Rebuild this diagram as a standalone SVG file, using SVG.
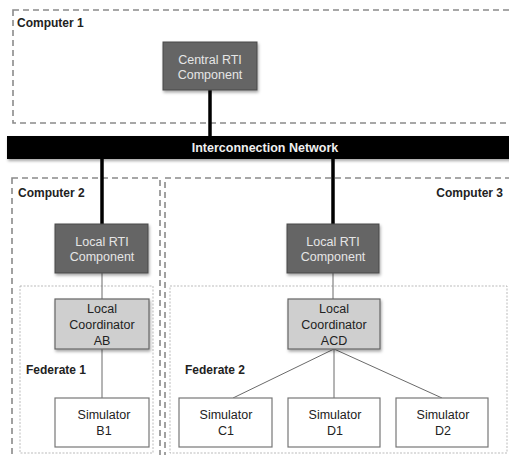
<svg xmlns="http://www.w3.org/2000/svg" width="509" height="455" viewBox="0 0 509 455">
<defs>
<filter id="sh" x="-10%" y="-10%" width="130%" height="140%"><feDropShadow dx="1" dy="2" stdDeviation="1.5" flood-color="#000" flood-opacity="0.35"/></filter>
<style>
.comp{fill:none;stroke:#8a8a8a;stroke-width:1.6;stroke-dasharray:6,4}
.fed{fill:none;stroke:#aaaaaa;stroke-width:0.8;stroke-dasharray:2,1.5}
.rti{fill:#656565;stroke:#4a4a4a;stroke-width:1;filter:url(#sh)}
.coord{fill:#cfcfcf;stroke:#666;stroke-width:1.2;filter:url(#sh)}
.sim{fill:#fff;stroke:#777;stroke-width:1.2}
.t{font-family:"Liberation Sans",Arial,sans-serif;font-size:12.5px;text-anchor:middle}
.tw{fill:#e6e6e6}
.tk{fill:#222}
.lbl{font-family:"Liberation Sans",Arial,sans-serif;font-size:12px;font-weight:bold;fill:#222}
.thick{stroke:#000;stroke-width:3.5}
.thin{stroke:#6a6a6a;stroke-width:1}
</style>
</defs>
<g id="computer1"><rect class="comp" x="13" y="10" width="510" height="113"/><text class="lbl" x="17" y="27">Computer 1</text></g>
<g id="computer2"><rect class="comp" x="12" y="178" width="148" height="290"/><text class="lbl" x="18" y="197">Computer 2</text></g>
<g id="computer3"><rect class="comp" x="165" y="178" width="360" height="290"/><text class="lbl" x="503" y="197" text-anchor="end">Computer 3</text></g>
<g id="federate1"><rect class="fed" x="20" y="286" width="133" height="167"/><text class="lbl" x="26" y="374">Federate 1</text></g>
<g id="federate2"><rect class="fed" x="170" y="286" width="337" height="167"/><text class="lbl" x="185" y="374">Federate 2</text></g>
<g id="connectors">
<line class="thick" x1="210" y1="90" x2="210" y2="137"/>
<line class="thick" x1="102" y1="158" x2="102" y2="224"/>
<line class="thick" x1="333" y1="158" x2="333" y2="224"/>
<line class="thin" x1="102" y1="273" x2="102" y2="299"/>
<line class="thin" x1="333" y1="273" x2="333" y2="299"/>
<line class="thin" x1="102" y1="349" x2="102" y2="398"/>
<line class="thin" x1="334" y1="349" x2="233" y2="398"/>
<line class="thin" x1="334" y1="349" x2="334" y2="398"/>
<line class="thin" x1="334" y1="349" x2="442" y2="398"/>
</g>
<g id="network"><rect x="7" y="136" width="510" height="23" fill="#000" filter="url(#sh)"/><text class="t" x="265" y="152" fill="#f0f0f0" font-weight="bold" font-size="12px">Interconnection Network</text></g>
<g id="central-rti"><rect class="rti" x="163" y="42" width="94" height="48"/><text class="t tw" x="210" y="64">Central RTI</text><text class="t tw" x="210" y="79">Component</text></g>
<g id="local-rti-2"><rect class="rti" x="55" y="224" width="93" height="49"/><text class="t tw" x="102" y="246">Local RTI</text><text class="t tw" x="102" y="261">Component</text></g>
<g id="local-rti-3"><rect class="rti" x="287" y="224" width="92" height="49"/><text class="t tw" x="333" y="246">Local RTI</text><text class="t tw" x="333" y="261">Component</text></g>
<g id="coord-ab"><rect class="coord" x="55" y="299" width="94" height="50"/><text class="t tk" x="102" y="313">Local</text><text class="t tk" x="102" y="329">Coordinator</text><text class="t tk" x="102" y="345">AB</text></g>
<g id="coord-acd"><rect class="coord" x="288" y="299" width="92" height="50"/><text class="t tk" x="334" y="313">Local</text><text class="t tk" x="334" y="329">Coordinator</text><text class="t tk" x="334" y="345">ACD</text></g>
<g id="sim-b1"><rect class="sim" x="55" y="398" width="94" height="49"/><text class="t tk" x="104" y="419">Simulator</text><text class="t tk" x="104" y="435">B1</text></g>
<g id="sim-c1"><rect class="sim" x="179" y="398" width="93" height="49"/><text class="t tk" x="226" y="419">Simulator</text><text class="t tk" x="226" y="435">C1</text></g>
<g id="sim-d1"><rect class="sim" x="288" y="398" width="92" height="49"/><text class="t tk" x="335" y="419">Simulator</text><text class="t tk" x="335" y="435">D1</text></g>
<g id="sim-d2"><rect class="sim" x="396" y="398" width="92" height="49"/><text class="t tk" x="443" y="419">Simulator</text><text class="t tk" x="443" y="435">D2</text></g>
</svg>
